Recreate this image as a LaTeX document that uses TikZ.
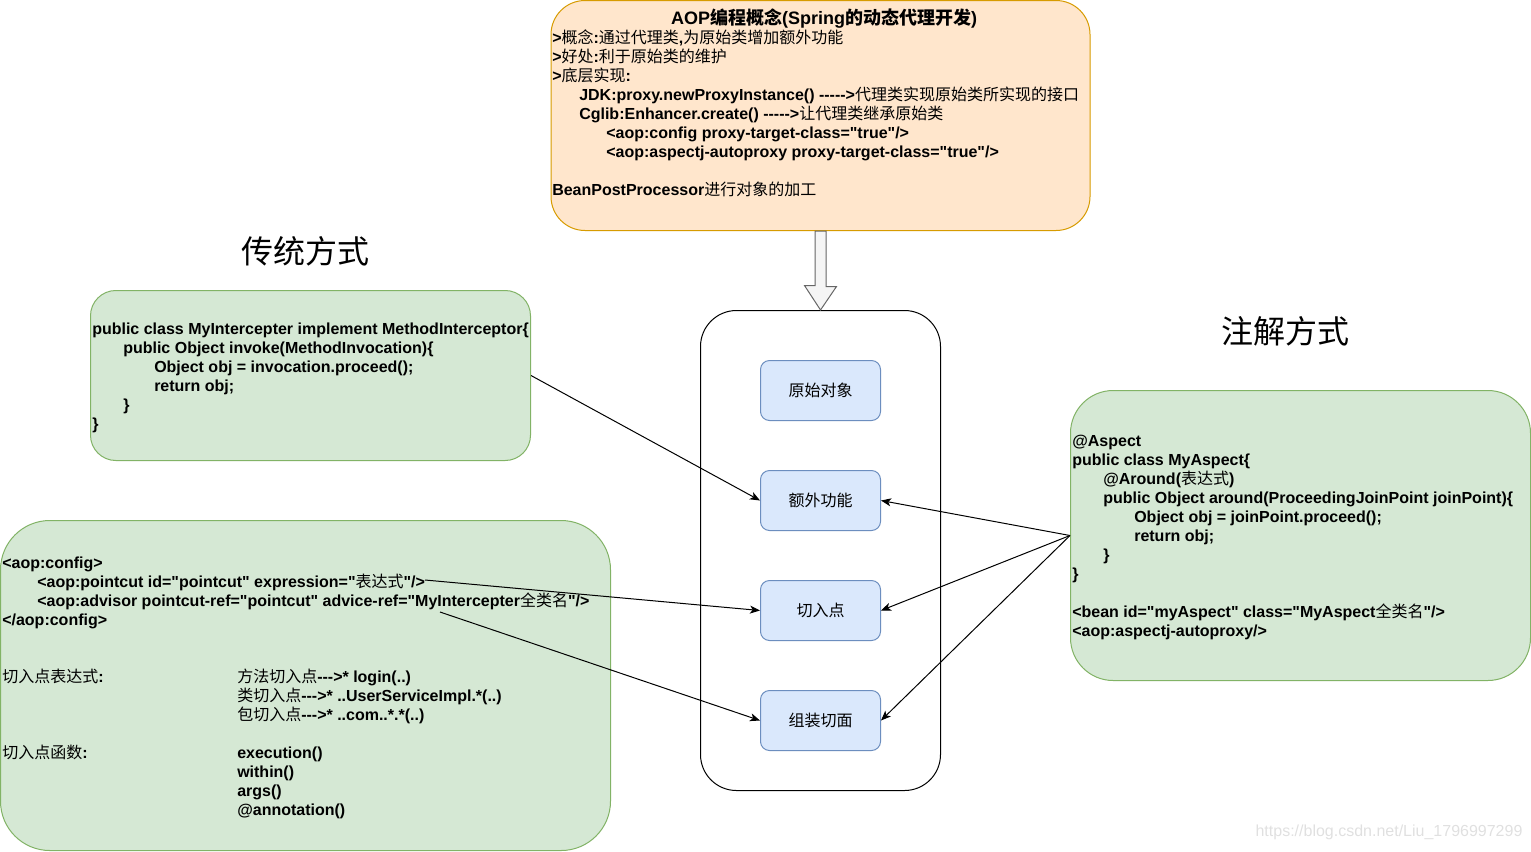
\documentclass[tikz,border=0pt]{standalone}
\usepackage{fontspec}
\setmainfont{Liberation Sans}
\newfontfamily\cjk{Noto Sans CJK SC}
\usetikzlibrary{arrows.meta}
\newdimen\pxu \pxu=0.75pt
\newcommand\zh[1]{{\cjk\mdseries #1}}
\newcommand\zhb[1]{{\cjk\bfseries #1}}
\newcommand\indt[1]{\hspace*{#1\pxu}}
\newcommand\farr{-\kern0pt-\kern0pt-\kern0pt-\kern0pt->}
\newcommand\sarr{-\kern0pt-\kern0pt->}
\newcommand\frst{\rule{0pt}{12pt}}
\newcommand\qq{\XeTeXglyph\XeTeXcharglyph"22\relax}
\newcommand\colA[1]{\makebox[235\pxu][l]{#1}}
\definecolor{orfill}{HTML}{FFE6CC}
\definecolor{orline}{HTML}{D79B00}
\definecolor{grfill}{HTML}{D5E8D4}
\definecolor{grline}{HTML}{82B366}
\definecolor{blfill}{HTML}{DAE8FC}
\definecolor{blline}{HTML}{6C8EBF}
\definecolor{arfill}{HTML}{F5F5F5}
\definecolor{arline}{HTML}{666666}
\begin{document}
\begin{tikzpicture}[x=0.75pt,y=-0.75pt,
  shapebox/.style={draw, line width=0.75pt, inner sep=0pt, rectangle},
  orbox/.style={shapebox, fill=orfill, draw=orline, rounded corners=25.5pt},
  grbox/.style={shapebox, fill=grfill, draw=grline},
  blbox/.style={shapebox, fill=blfill, draw=blline, rounded corners=6.75pt,
    minimum width=90pt, minimum height=45pt, font=\cjk\fontsize{12pt}{14pt}\selectfont},
  codetxt/.style={anchor=north west, inner sep=0pt, align=left,
    font=\fontsize{12pt}{14.25pt}\selectfont\bfseries},
  conn/.style={line width=0.75pt, -{Stealth[length=7.5pt,width=6pt,inset=2pt]}},
  heading/.style={inner sep=0pt, font=\cjk\fontsize{24pt}{28pt}\selectfont}]
\useasboundingbox (0,0) rectangle (1531,851);

% top box
\node[orbox, minimum width=404.25pt, minimum height=172.5pt] (top) at (820.5,115.5) {};
\node[inner sep=0pt, anchor=base, font=\fontsize{13.5pt}{16pt}\selectfont\bfseries] (title) at (824,24)
  {AOP\zhb{编程概念}(Spring\zhb{的动态代理开发})};
\node[codetxt] (toptxt) at (552,27) {%
\frst>\zh{概念}:\zh{通过代理类},\zh{为原始类增加额外功能}\\
>\zh{好处}:\zh{利于原始类的维护}\\
>\zh{底层实现}:\\
\indt{27}JDK:proxy.newProxyInstance() \farr\zh{代理类实现原始类所实现的接口}\\
\indt{27}Cglib:Enhancer.create() \farr\zh{让代理类继承原始类}\\
\indt{54}<aop:config proxy-target-class=\qq true\qq/>\\
\indt{54}<aop:aspectj-autoproxy proxy-target-class=\qq true\qq/>\\
\mbox{}\\
BeanPostProcessor\zh{进行对象的加工}};

% headings
\node[heading] (h1) at (305,251) {传统方式};
\node[heading] (h2) at (1285,331) {注解方式};

% container
\node[shapebox, draw=black, fill=white, rounded corners=27pt, minimum width=180pt, minimum height=360pt] (cont) at (820.5,550.5) {};
\node[blbox] (b1) at (820.5,390.5) {原始对象};
\node[blbox] (b2) at (820.5,500.5) {额外功能};
\node[blbox] (b3) at (820.5,610.5) {切入点};
\node[blbox] (b4) at (820.5,720.5) {组装切面};

% block arrow
\draw[line width=0.75pt, fill=arfill, draw=arline]
  (top.south) ++(-5.5,0) -- ++(11,0) -- ++(0,55.5) -- ++(10.5,0) -- (cont.north)
  -- ++(-16,-24.5) -- ++(10.5,0) -- cycle;

% left box 1
\node[grbox, rounded corners=19pt, minimum width=330pt, minimum height=127.5pt] (lb1) at (310.5,375.5) {};
\node[codetxt] (lt1) at (92,318) {%
\frst public class MyIntercepter implement MethodInterceptor\{\\
\indt{31}public Object invoke(MethodInvocation)\{\\
\indt{62}Object obj = invocation.proceed();\\
\indt{62}return obj;\\
\indt{31}\}\\
\}};

% left box 2
\node[grbox, rounded corners=37pt, minimum width=457.5pt, minimum height=247.5pt] (lb2) at (305.5,685.5) {};
\node[codetxt] (lt2) at (2,552) {%
\frst<aop:config>\\
\indt{35}<aop:pointcut id=\qq pointcut\qq{} expression=\qq\zh{表达式}\qq/>\\
\indt{35}<aop:advisor pointcut-ref=\qq pointcut\qq{} advice-ref=\qq MyIntercepter\zh{全类名}\qq/>\\
</aop:config>\\
\mbox{}\\
\mbox{}\\
\colA{\zh{切入点表达式}:}\zh{方法切入点}\sarr* login(..)\\
\colA{}\zh{类切入点}\sarr* ..UserServiceImpl.*(..)\\
\colA{}\zh{包切入点}\sarr* ..com..*.*(..)\\
\mbox{}\\
\colA{\zh{切入点函数}:}execution()\\
\colA{}within()\\
\colA{}args()\\
\colA{}@annotation()};

% right box
\node[grbox, rounded corners=32pt, minimum width=345pt, minimum height=217.5pt] (rb) at (1300.5,535.5) {};
\node[codetxt] (rt) at (1072,430) {%
\frst@Aspect\\
public class MyAspect\{\\
\indt{31}@Around(\zh{表达式})\\
\indt{31}public Object around(ProceedingJoinPoint joinPoint)\{\\
\indt{62}Object obj = joinPoint.proceed();\\
\indt{62}return obj;\\
\indt{31}\}\\
\}\\
\mbox{}\\
<bean id=\qq myAspect\qq{} class=\qq MyAspect\zh{全类名}\qq/>\\
<aop:aspectj-autoproxy/>};

% connectors
\coordinate (s2) at (425,580);
\coordinate (s3) at (440,612);
\draw[conn] (lb1.east) -- (b2.west);
\draw[conn] (s2) -- (b3.west);
\draw[conn] (s3) -- (b4.west);
\draw[conn] (rb.west) -- (b2.east);
\draw[conn] (rb.west) -- (b3.east);
\draw[conn] (rb.west) -- (b4.east);

% watermark
\node[inner sep=0pt, font=\fontsize{12pt}{14pt}\selectfont, text=black!12] (wm) at (1389,832) {https://blog.csdn.net/Liu\_1796997299};
\end{tikzpicture}
\end{document}
